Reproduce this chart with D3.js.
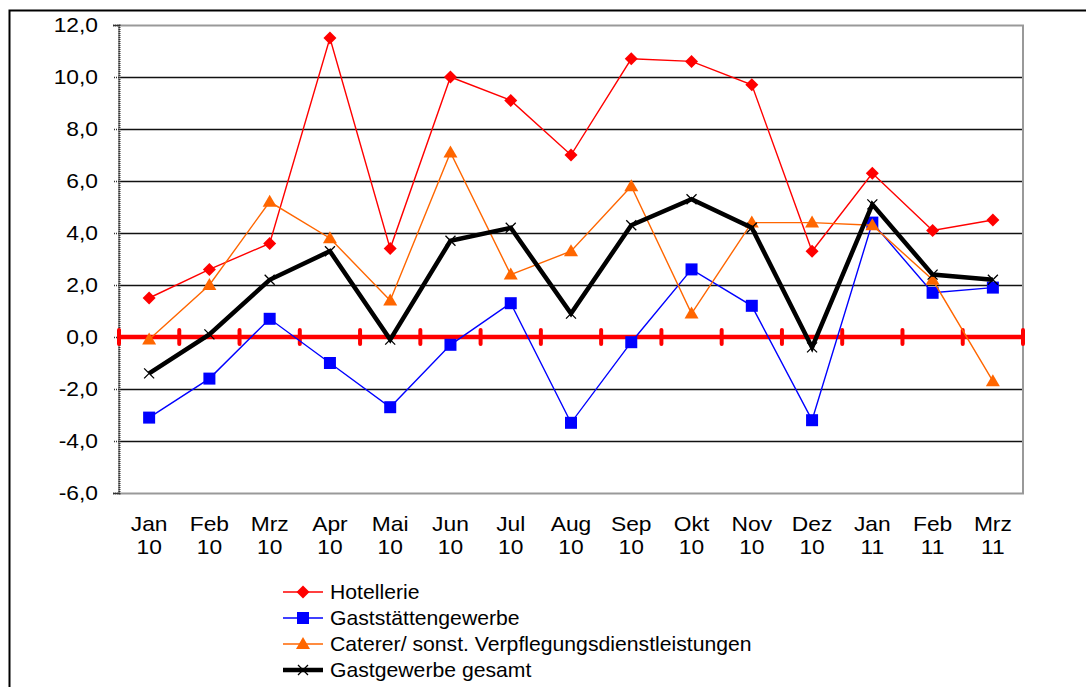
<!DOCTYPE html>
<html>
<head>
<meta charset="utf-8">
<script src="https://cdn.jsdelivr.net/npm/d3@7"></script>
<style>
  html, body { margin: 0; padding: 0; background: #ffffff; }
  svg text { font-family: Arial, "Liberation Sans", Helvetica, sans-serif; }
</style>
</head>
<body>
<svg id="chart" width="1086" height="687"></svg>
<script>
const months = ["Jan", "Feb", "Mrz", "Apr", "Mai", "Jun", "Jul", "Aug", "Sep", "Okt", "Nov", "Dez", "Jan", "Feb", "Mrz"];
const years = ["10", "10", "10", "10", "10", "10", "10", "10", "10", "10", "10", "10", "11", "11", "11"];
const yTicks = [-6, -4, -2, 0, 2, 4, 6, 8, 10, 12];

const hotellerie = [1.5, 2.6, 3.6, 11.5, 3.4, 10.0, 9.1, 7.0, 10.7, 10.6, 9.7, 3.3, 6.3, 4.1, 4.5];
const gaststaetten = [-3.1, -1.6, 0.7, -1.0, -2.7, -0.3, 1.3, -3.3, -0.2, 2.6, 1.2, -3.2, 4.4, 1.7, 1.9];
const caterer = [-0.1, 2.0, 5.2, 3.8, 1.4, 7.1, 2.4, 3.3, 5.8, 0.9, 4.4, 4.4, 4.3, 2.2, -1.7];
const gesamt = [-1.4, 0.1, 2.2, 3.3, -0.1, 3.7, 4.2, 0.9, 4.3, 5.3, 4.2, -0.4, 5.1, 2.4, 2.2];

const series = [
  { name: "Hotellerie", values: hotellerie, color: "#ff0000", width: 1.4, marker: "diamond" },
  { name: "Gaststättengewerbe", values: gaststaetten, color: "#0000ff", width: 1.4, marker: "square" },
  { name: "Caterer/ sonst. Verpflegungsdienstleistungen", values: caterer, color: "#ff6600", width: 1.4, marker: "triangle" },
  { name: "Gastgewerbe gesamt", values: gesamt, color: "#000000", width: 4.5, marker: "cross" }
];

const svg = d3.select("#chart");
const plot = { left: 119, right: 1023, top: 25, bottom: 493 };
const fontSize = 20;

const keys = months.map(function(m, i) { return i; });
const x = d3.scaleBand().domain(keys).range([plot.left, plot.right]).padding(0);
const y = d3.scaleLinear().domain([-6, 12]).range([plot.bottom, plot.top]);
const cx = function(i) { return x(i) + x.bandwidth() / 2; };

// source text is a little wider than Arial, so stretch it horizontally
function label(parent, tx, ty, str, anchor, stretch) {
  const g = parent.append("g").attr("transform", "translate(" + tx + "," + ty + ") scale(" + stretch + ",1)");
  return g.append("text")
    .attr("x", 0)
    .attr("y", 0)
    .attr("text-anchor", anchor || "start")
    .attr("font-size", fontSize)
    .attr("fill", "#000")
    .text(str);
}

// outer frame (top + left edges)
svg.append("path")
  .attr("d", "M9.5,687 L9.5,10.5 L1086,10.5")
  .attr("fill", "none")
  .attr("stroke", "#000")
  .attr("stroke-width", 2);

// horizontal grid
svg.append("g")
  .selectAll("line")
  .data(yTicks.filter(function(t) { return t !== 12 && t !== -6 && t !== 0; }))
  .join("line")
  .attr("x1", plot.left)
  .attr("x2", plot.right)
  .attr("y1", function(d) { return Math.round(y(d)) + 0.5; })
  .attr("y2", function(d) { return Math.round(y(d)) + 0.5; })
  .attr("stroke", "#111")
  .attr("stroke-width", 1.5);

// plot area border (gray)
svg.append("rect")
  .attr("x", plot.left)
  .attr("y", plot.top + 0.5)
  .attr("width", plot.right - plot.left)
  .attr("height", plot.bottom - plot.top)
  .attr("fill", "none")
  .attr("stroke", "#999")
  .attr("stroke-width", 2);

// y axis
const fmt = function(d) { return d3.format(".1f")(d).replace(".", ",").replace("\u2212", "-"); };
const yAxis = d3.axisLeft(y)
  .tickValues(yTicks)
  .tickSize(6)
  .tickFormat("");

const yAxisG = svg.append("g")
  .attr("transform", "translate(" + plot.left + ",0)")
  .call(yAxis);
yAxisG.select(".domain").attr("stroke", "#333").attr("stroke-width", 2).attr("stroke-dasharray", "1,1");
yAxisG.selectAll(".tick line").attr("stroke", "#333").attr("stroke-width", 1.5).attr("stroke-dasharray", "1,1");

const yLabels = svg.append("g");
yTicks.forEach(function(t) {
  label(yLabels, 98, y(t), fmt(t), "end", 1.14).attr("dy", "0.35em");
});

// x labels
const xLabels = svg.append("g");
keys.forEach(function(i) {
  label(xLabels, cx(i), 531, months[i], "middle", 1.14);
  label(xLabels, cx(i), 554, years[i], "middle", 1.14);
});

// zero axis (red) with ticks at category boundaries
svg.append("line")
  .attr("x1", plot.left)
  .attr("x2", plot.right)
  .attr("y1", y(0))
  .attr("y2", y(0))
  .attr("stroke", "#ff0000")
  .attr("stroke-width", 4.5);

const boundaries = keys.map(function(i) { return x(i); }).concat([plot.right]);
svg.append("g")
  .selectAll("line")
  .data(boundaries)
  .join("line")
  .attr("x1", function(d) { return d; })
  .attr("x2", function(d) { return d; })
  .attr("y1", y(0) - 7)
  .attr("y2", y(0) + 7)
  .attr("stroke", "#ff0000")
  .attr("stroke-width", 4)
  .attr("stroke-linecap", "round");

// markers
function drawMarker(g, kind, color, px, py) {
  if (kind === "diamond") {
    g.append("path")
      .attr("d", "M" + px + "," + (py - 6.5) + " L" + (px + 6.5) + "," + py + " L" + px + "," + (py + 6.5) + " L" + (px - 6.5) + "," + py + "Z")
      .attr("fill", color);
  } else if (kind === "square") {
    g.append("rect")
      .attr("x", px - 6)
      .attr("y", py - 6)
      .attr("width", 12)
      .attr("height", 12)
      .attr("fill", color);
  } else if (kind === "triangle") {
    g.append("path")
      .attr("d", "M" + px + "," + (py - 7) + " L" + (px + 7) + "," + (py + 5) + " L" + (px - 7) + "," + (py + 5) + "Z")
      .attr("fill", color);
  } else if (kind === "cross") {
    g.append("path")
      .attr("d", "M" + (px - 5) + "," + (py - 5) + " L" + (px + 5) + "," + (py + 5) + " M" + (px + 5) + "," + (py - 5) + " L" + (px - 5) + "," + (py + 5))
      .attr("stroke", color)
      .attr("stroke-width", 1.3)
      .attr("fill", "none");
  }
}

const line = d3.line()
  .x(function(d, i) { return cx(i); })
  .y(function(d) { return y(d); });

series.forEach(function(s) {
  const g = svg.append("g");
  g.append("path")
    .datum(s.values)
    .attr("d", line)
    .attr("fill", "none")
    .attr("stroke", s.color)
    .attr("stroke-width", s.width)
    .attr("stroke-linejoin", "miter");
  s.values.forEach(function(v, i) {
    drawMarker(g, s.marker, s.color, cx(i), y(v));
  });
});

// legend
const legend = svg.append("g").attr("transform", "translate(283,592)");
series.forEach(function(s, i) {
  const row = legend.append("g").attr("transform", "translate(0," + (i * 26) + ")");
  row.append("line")
    .attr("x1", 0)
    .attr("x2", 40)
    .attr("y1", 0)
    .attr("y2", 0)
    .attr("stroke", s.color)
    .attr("stroke-width", s.width);
  drawMarker(row, s.marker, s.color, 20, 0);
  label(row, 47, 0, s.name, "start", 1.06).attr("dy", "0.35em");
});
</script>
</body>
</html>
